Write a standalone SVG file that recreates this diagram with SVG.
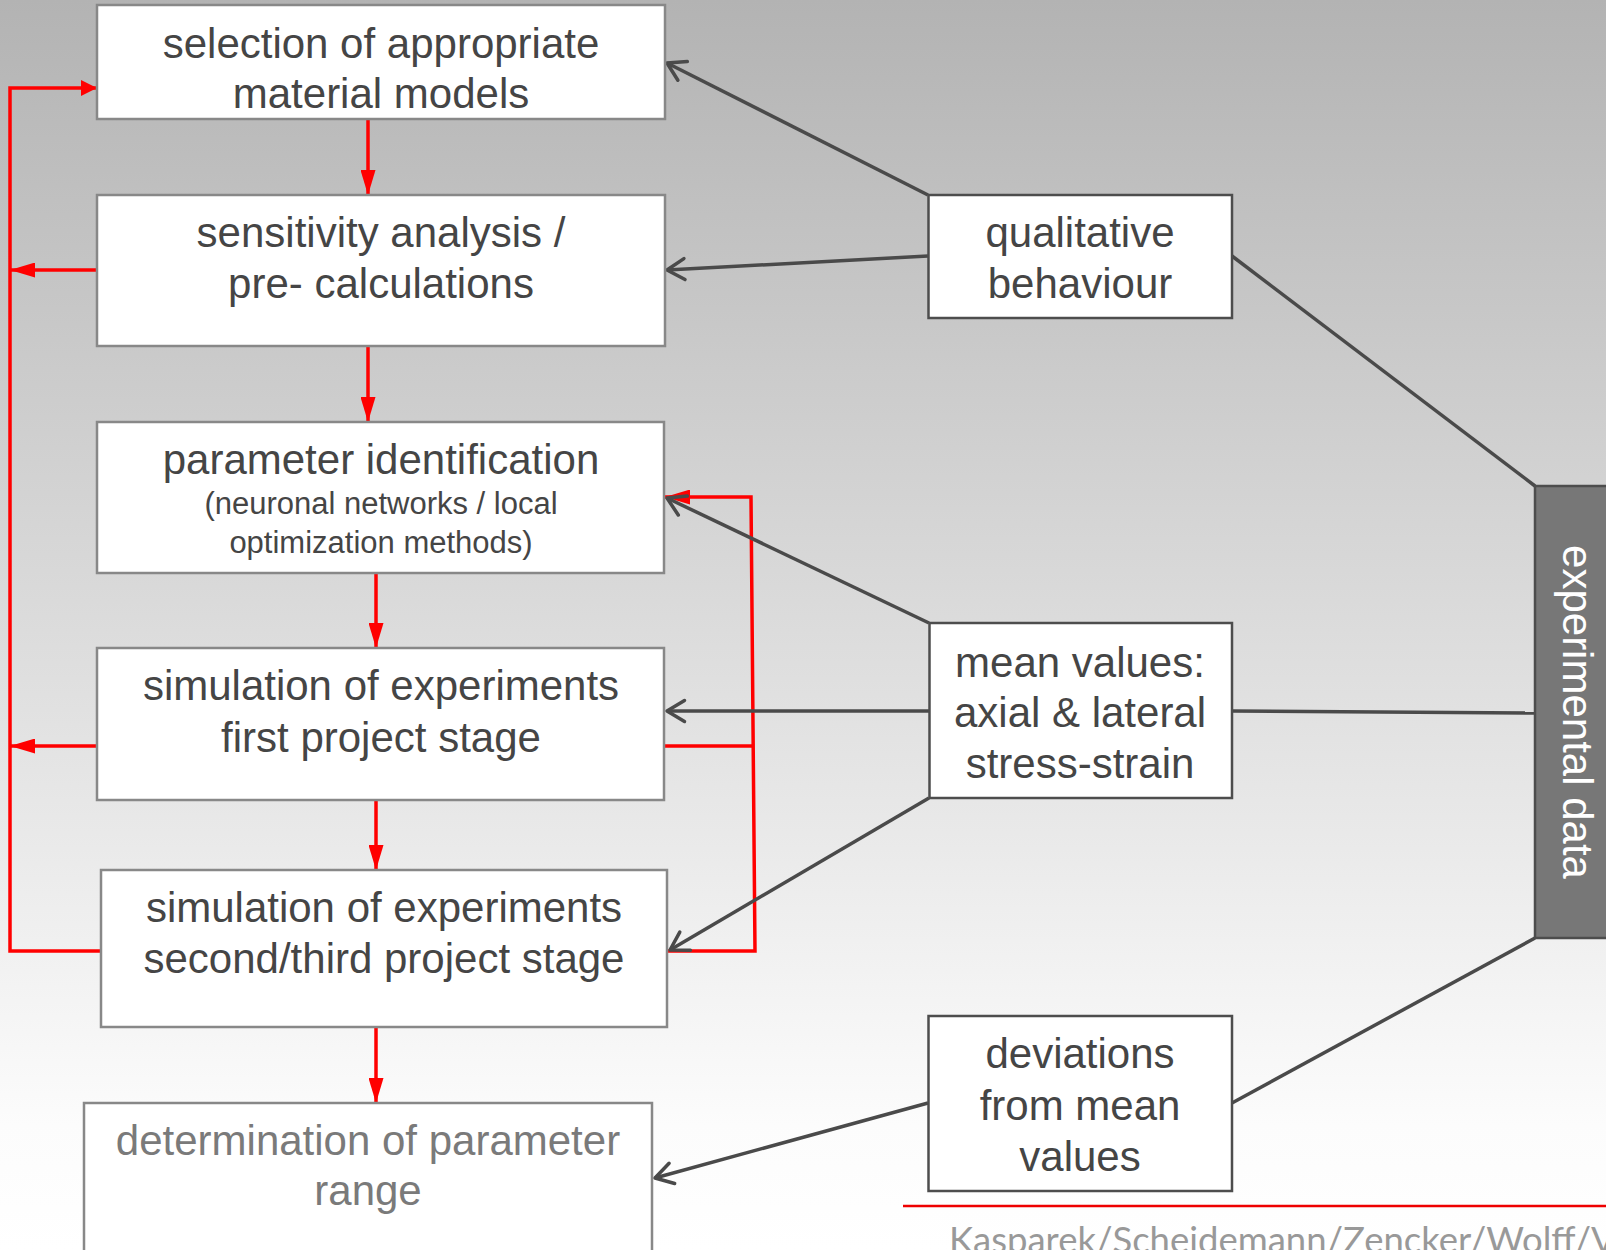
<svg xmlns="http://www.w3.org/2000/svg" width="1606" height="1250" viewBox="0 0 1606 1250">
  <defs>
    <linearGradient id="bg" x1="0" y1="0" x2="0" y2="1">
      <stop offset="0" stop-color="#b3b3b3"/>
      <stop offset="0.9" stop-color="#fcfcfc"/>
      <stop offset="1" stop-color="#ffffff"/>
    </linearGradient>
    <marker id="redArrow" markerUnits="userSpaceOnUse" viewBox="0 0 25 15" refX="25" refY="7.5" markerWidth="25" markerHeight="15" orient="auto">
      <path d="M0,0 L25,7.5 L0,15 z" fill="#ff0000"/>
    </marker>
    <marker id="redArrowShort" markerUnits="userSpaceOnUse" viewBox="0 0 16 16" refX="16" refY="8" markerWidth="16" markerHeight="16" orient="auto">
      <path d="M0,0 L16,8 L0,16 z" fill="#ff0000"/>
    </marker>
    <marker id="grayArrow" markerUnits="userSpaceOnUse" viewBox="-22 -13 25 26" refX="0" refY="0" markerWidth="25" markerHeight="26" orient="auto">
      <path d="M-17.5,-10.5 L0,0 L-17.5,10.5" fill="none" stroke="#4a4a4a" stroke-width="3.5" stroke-linecap="round" stroke-linejoin="round"/>
    </marker>
    <style>
      .lbox { fill: #ffffff; stroke: #888888; stroke-width: 2.5; }
      .rbox { fill: #ffffff; stroke: #4d4d4d; stroke-width: 2.5; }
      .big { font-family: "Liberation Sans", Arial, sans-serif; font-size: 42px; fill: #454545; text-anchor: middle; }
      .small { font-family: "Liberation Sans", Arial, sans-serif; font-size: 31px; fill: #454545; text-anchor: middle; }
      .pale { fill: #7a7a7a; }
      .red { fill: none; stroke: #ff0000; stroke-width: 3.5; }
      .gray { fill: none; stroke: #4a4a4a; stroke-width: 3.5; }
    </style>
  </defs>

  <rect x="0" y="0" width="1606" height="1250" fill="url(#bg)"/>

  <g id="connectors">
    <!-- red main flow -->
    <path class="red" d="M368,119 V195" marker-end="url(#redArrow)"/>
    <path class="red" d="M368,346 V422" marker-end="url(#redArrow)"/>
    <path class="red" d="M376,573 V648" marker-end="url(#redArrow)"/>
    <path class="red" d="M376,800 V870" marker-end="url(#redArrow)"/>
    <path class="red" d="M376,1027 V1103" marker-end="url(#redArrow)"/>
    <!-- left feedback loop -->
    <path class="red" d="M101,951 H10 V88 H97" marker-end="url(#redArrowShort)"/>
    <path class="red" d="M97,270 H10" marker-end="url(#redArrow)"/>
    <path class="red" d="M97,746 H10" marker-end="url(#redArrow)"/>
    <!-- right feedback loop -->
    <path class="red" d="M667,951 H755 L751,497 H665" marker-end="url(#redArrow)"/>
    <path class="red" d="M664,746 H753"/>
    <!-- gray data connectors -->
    <path class="gray" d="M928,195 L667,63" marker-end="url(#grayArrow)"/>
    <path class="gray" d="M928,256 L667,270" marker-end="url(#grayArrow)"/>
    <path class="gray" d="M1232,256 L1535,486"/>
    <path class="gray" d="M929,623 L667,498" marker-end="url(#grayArrow)"/>
    <path class="gray" d="M929,711 L667,711" marker-end="url(#grayArrow)"/>
    <path class="gray" d="M929,798 L670,950" marker-end="url(#grayArrow)"/>
    <path class="gray" d="M1232,711 L1535,713"/>
    <path class="gray" d="M928,1103 L655,1178" marker-end="url(#grayArrow)"/>
    <path class="gray" d="M1232,1103 L1535,938"/>
  </g>

  <g id="selection">
    <rect class="lbox" x="97" y="5" width="568" height="114"/>
    <text class="big" x="381" y="58">selection of appropriate</text>
    <text class="big" x="381" y="108">material models</text>
  </g>

  <g id="sensitivity">
    <rect class="lbox" x="97" y="195" width="568" height="151"/>
    <text class="big" x="381" y="247">sensitivity analysis /</text>
    <text class="big" x="381" y="298">pre- calculations</text>
  </g>

  <g id="parameter-identification">
    <rect class="lbox" x="97" y="422" width="567" height="151"/>
    <text class="big" x="381" y="474">parameter identification</text>
    <text class="small" x="381" y="514">(neuronal networks / local</text>
    <text class="small" x="381" y="553">optimization methods)</text>
  </g>

  <g id="simulation-first">
    <rect class="lbox" x="97" y="648" width="567" height="152"/>
    <text class="big" x="381" y="700">simulation of experiments</text>
    <text class="big" x="381" y="752">first project stage</text>
  </g>

  <g id="simulation-second">
    <rect class="lbox" x="101" y="870" width="566" height="157"/>
    <text class="big" x="384" y="922">simulation of experiments</text>
    <text class="big" x="384" y="973">second/third project stage</text>
  </g>

  <g id="parameter-range">
    <rect class="lbox" x="84" y="1103" width="568" height="160"/>
    <text class="big pale" x="368" y="1155">determination of parameter</text>
    <text class="big pale" x="368" y="1205">range</text>
  </g>

  <g id="qualitative">
    <rect class="rbox" x="928.5" y="195" width="303.5" height="123"/>
    <text class="big" x="1080" y="247">qualitative</text>
    <text class="big" x="1080" y="298">behaviour</text>
  </g>

  <g id="mean-values">
    <rect class="rbox" x="929.5" y="623" width="302.5" height="175"/>
    <text class="big" x="1080" y="677">mean values:</text>
    <text class="big" x="1080" y="727">axial &amp; lateral</text>
    <text class="big" x="1080" y="778">stress-strain</text>
  </g>

  <g id="deviations">
    <rect class="rbox" x="928.5" y="1016" width="303.5" height="175"/>
    <text class="big" x="1080" y="1068">deviations</text>
    <text class="big" x="1080" y="1120">from mean</text>
    <text class="big" x="1080" y="1171">values</text>
  </g>

  <g id="experimental-data">
    <rect x="1535" y="486" width="80" height="452" fill="#777777" stroke="#4d4d4d" stroke-width="2.5"/>
    <text transform="translate(1563,712) rotate(90)" font-family="'Liberation Sans', Arial, sans-serif" font-size="42" fill="#ffffff" text-anchor="middle">experimental data</text>
  </g>

  <g id="footer">
    <line x1="903" y1="1206" x2="1606" y2="1206" stroke="#ee0000" stroke-width="2.5"/>
    <text x="949" y="1253" font-family="Lato, 'Open Sans', sans-serif" font-size="36.5" fill="#999999">Kasparek/Scheidemann/Zencker/Wolff/V</text>
  </g>
</svg>
